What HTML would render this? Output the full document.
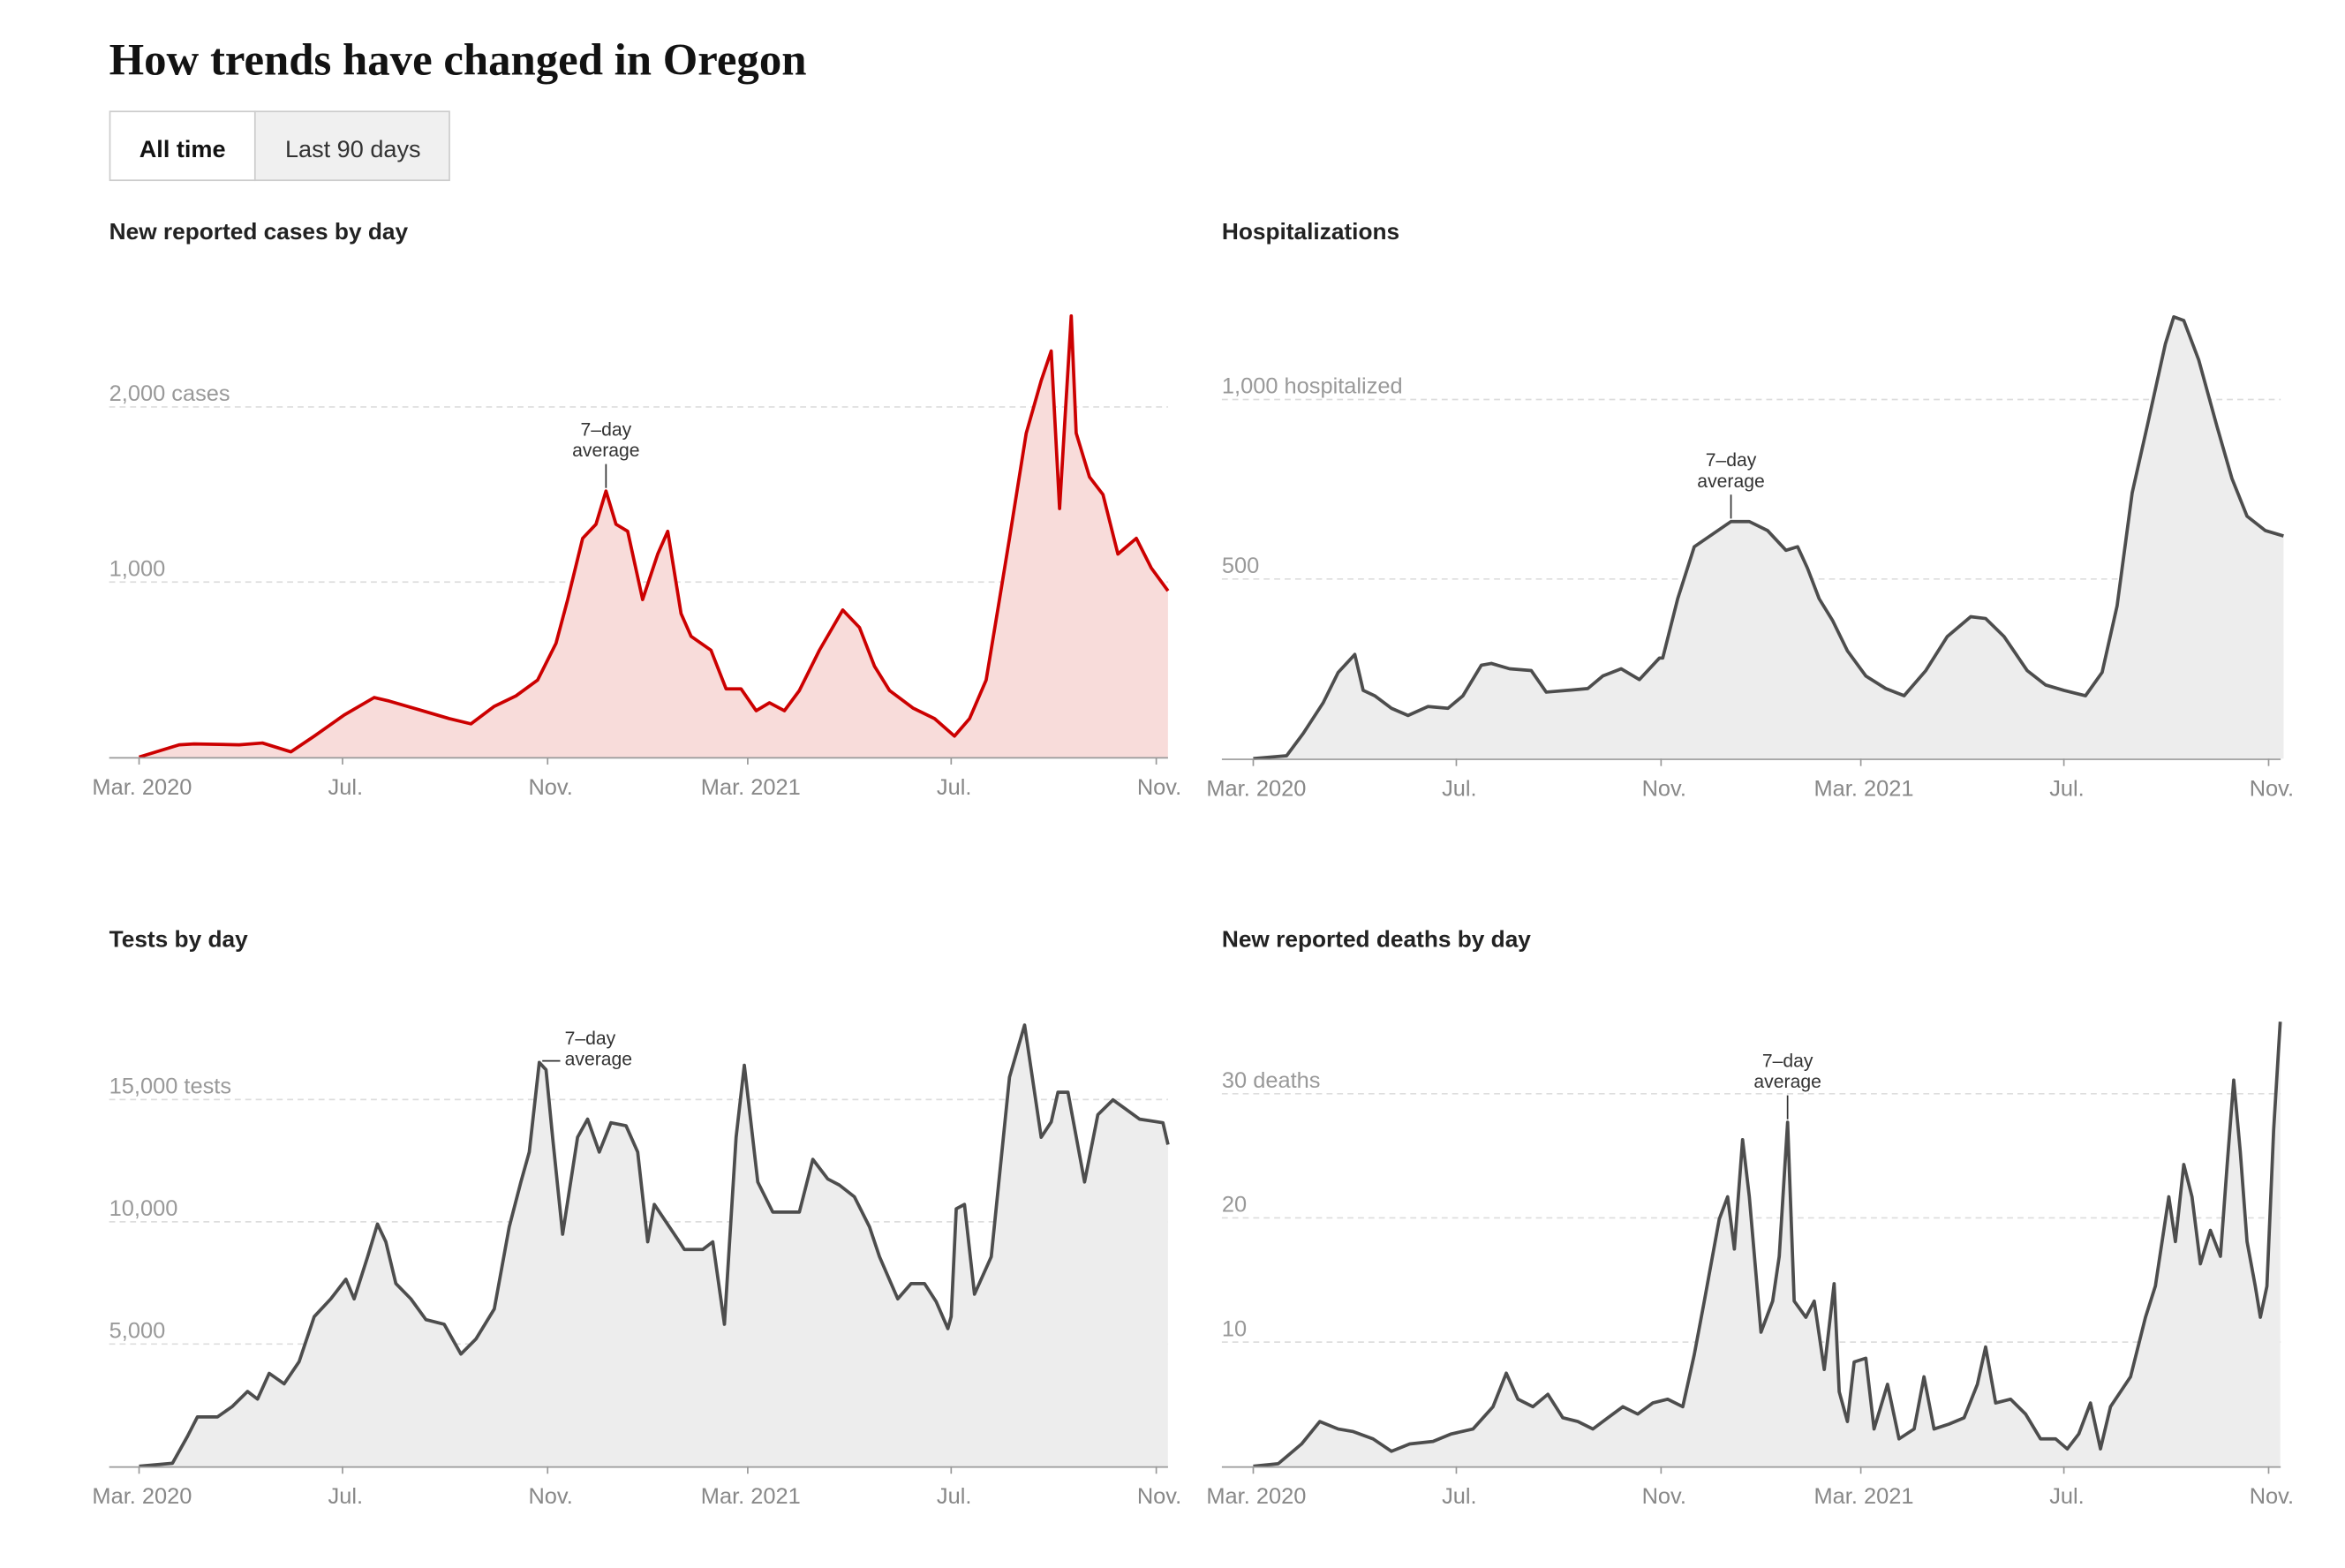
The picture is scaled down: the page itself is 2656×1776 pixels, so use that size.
<!DOCTYPE html>
<html><head><meta charset="utf-8">
<style>
html,body{margin:0;padding:0;background:#fff;width:2656px;height:1776px;overflow:hidden;}
svg{display:block;}
text{font-family:"Liberation Sans",sans-serif;}
</style></head>
<body>
<svg id="root" width="2656" height="1776" viewBox="0 0 1568 1048" preserveAspectRatio="none" xmlns="http://www.w3.org/2000/svg">
  <text x="73" y="50" font-weight="bold" font-size="30" fill="#121212" style="font-family:'Liberation Serif',serif">How trends have changed in Oregon</text>
  <g>
    <rect x="73.5" y="74.5" width="97" height="46" fill="#fff" stroke="#ccc"/>
    <text x="122" y="105" text-anchor="middle" font-size="16" font-weight="bold" fill="#121212">All time</text>
  </g>
  <g>
    <rect x="170.5" y="74.5" width="130" height="46" fill="#f0f0f0" stroke="#ccc"/>
    <text x="236" y="105" text-anchor="middle" font-size="16" fill="#333">Last 90 days</text>
  </g>
</svg>
<script>
// ---- data (days since 2020-03-01) ----
const caseDays=[0,24,33,60,74,91,105,123,141,150,168,186,199,213,226,239,250,257,266,274,280,286,293,302,311,317,325,331,343,352,361,370,378,387,396,408,422,432,441,450,464,477,489,498,508,516,522,532,541,547,552,555,559,562,570,578,587,598,607,617];
const caseVals=[0,70,75,70,80,30,120,240,340,320,270,220,190,290,350,440,650,900,1250,1330,1520,1330,1290,900,1160,1290,820,690,610,390,390,265,310,265,380,610,840,740,520,380,280,220,120,220,440,900,1250,1850,2150,2320,1420,1890,2520,1850,1600,1500,1160,1250,1080,950];
const hospDays=[0,20,30,42,51,61,66,73,83,93,105,117,126,137,143,154,167,176,189,201,210,221,232,244,246,255,265,287,298,309,320,327,333,340,348,357,368,380,391,404,417,431,440,451,465,476,487,500,510,519,528,537,548,553,559,568,579,588,597,608,619];
const hospVals=[0,8,70,155,240,290,190,175,140,120,145,140,175,260,265,250,245,185,190,195,230,250,220,280,280,445,590,660,660,635,580,590,530,445,385,300,230,195,175,245,340,395,390,340,245,205,190,175,240,425,740,925,1155,1230,1220,1110,925,780,675,635,620];
const testDays=[0,20,29,35,47,56,65,71,78,87,96,105,115,124,129,137,143,148,154,163,172,183,193,202,213,222,229,234,240,244,248,254,263,269,276,283,292,299,305,309,324,327,338,344,351,358,363,371,380,389,396,404,413,420,429,438,444,455,463,471,478,485,487,490,495,501,511,522,531,541,547,551,557,567,575,584,600,614,617];
const testVals=[0,120,1220,2020,2020,2450,3060,2750,3800,3370,4280,6120,6850,7650,6850,8570,9910,9180,7470,6850,6000,5810,4590,5200,6430,9790,11630,12850,16520,16220,13460,9490,13460,14200,12850,14050,13930,12850,9180,10710,9180,8870,8870,9180,5810,13460,16400,11630,10400,10400,10400,12550,11750,11500,11020,9790,8570,6850,7470,7470,6730,5630,6120,10530,10710,7040,8570,15910,18050,13460,14080,15300,15300,11630,14380,14990,14200,14050,13160,13340,14260,11320];
const deathDays=[0,15,29,40,51,60,72,83,94,108,119,132,144,152,159,168,177,186,195,204,213,222,231,240,249,258,265,271,280,285,289,294,298,305,312,316,321,325,332,337,343,349,352,357,361,368,373,381,388,397,403,409,418,427,435,440,446,455,464,473,482,489,496,503,509,515,527,536,542,550,554,559,564,569,575,581,585,589,593,597,602,605,609,613,617];
const deathVals=[0,0.2,1.8,3.6,3,2.8,2.2,1.2,1.8,2,2.6,3,4.8,7.5,5.4,4.8,5.8,3.9,3.6,3,3.9,4.8,4.2,5.1,5.4,4.8,9,13.3,19.9,21.7,17.5,26.3,21.7,10.8,13.3,16.9,27.7,13.3,12,13.3,7.8,14.7,6,3.6,8.4,8.7,3,6.6,2.2,3,7.2,3,3.4,3.9,6.6,9.6,5.1,5.4,4.2,2.2,2.2,1.4,2.6,5.1,1.4,4.8,7.2,12,14.5,21.7,18.1,24.3,21.7,16.3,19,16.9,24.1,31.1,25.3,18.1,14.5,12,14.5,27.1,35.8];
const tickLabels=["Mar. 2020","Jul.","Nov.","Mar. 2021","Jul.","Nov."];
const tickDays=[0,122,245,365,487,610];

const NS="http://www.w3.org/2000/svg";
const root=document.getElementById('root');
function el(tag,attrs,parent){const e=document.createElementNS(NS,tag);for(const k in attrs)e.setAttribute(k,attrs[k]);(parent||root).appendChild(e);return e;}

const charts=[
 {name:'cases',title:'New reported cases by day',tx:73,ty:155,x0:93,pxd:1.115,xl:73,xr:781,y0:506,ppu:0.117,days:caseDays,vals:caseVals,
  grid:[1000,2000],glab:['1,000','2,000 cases'],fill:'#f8dcda',stroke:'#cc0000',ann:{d:280,type:'top'}},
 {name:'hospitalizations',title:'Hospitalizations',tx:817,ty:155,x0:838,pxd:1.113,xl:817,xr:1525,y0:507,ppu:0.24,days:hospDays,vals:hospVals,
  grid:[500,1000],glab:['500','1,000 hospitalized'],fill:'#ededed',stroke:'#4d4d4d',ann:{d:287,type:'top'}},
 {name:'tests',title:'Tests by day',tx:73,ty:628,x0:93,pxd:1.115,xl:73,xr:781,y0:980,ppu:0.01634,days:testDays,vals:testVals,
  grid:[5000,10000,15000],glab:['5,000','10,000','15,000 tests'],fill:'#ededed',stroke:'#4d4d4d',ann:{d:240,type:'side'}},
 {name:'deaths',title:'New reported deaths by day',tx:817,ty:628,x0:838,pxd:1.113,xl:817,xr:1525,y0:980,ppu:8.3,days:deathDays,vals:deathVals,
  grid:[10,20,30],glab:['10','20','30 deaths'],fill:'#ededed',stroke:'#4d4d4d',ann:{d:321,type:'top'}}
];

charts.forEach(c=>{
  const g=el('g',{});
  
  
  const X=d=>c.x0+d*c.pxd, Y=v=>c.y0-v*c.ppu;
  const t=el('text',{x:c.tx,y:c.ty+5,'font-size':15.5,'font-weight':'bold',fill:'#222'},g);
  t.textContent=c.title;
  
  
  c.grid.forEach((v,i)=>{
    const l=el('line',{x1:c.xl,x2:c.xr,y1:Y(v),y2:Y(v),stroke:'#ddd','stroke-dasharray':'4,3','stroke-width':1},g);
    
    
    const tl=el('text',{x:c.xl,y:Y(v)-4,'font-size':15,fill:'#999'},g);
    tl.textContent=c.glab[i];
    
    
  });
  let pts=c.days.map((d,i)=>X(d).toFixed(1)+','+Y(c.vals[i]).toFixed(1));
  const lastX=X(c.days[c.days.length-1]), firstX=X(c.days[0]);
  const area=el('polygon',{points:firstX+','+c.y0+' '+pts.join(' ')+' '+lastX+','+c.y0,fill:c.fill},g);
  
  
  const line=el('polyline',{points:pts.join(' '),fill:'none',stroke:c.stroke,'stroke-width':2.2,'stroke-linejoin':'round'},g);
  
  
  const ax=el('line',{x1:c.xl,x2:c.xr,y1:c.y0+0.5,y2:c.y0+0.5,stroke:'#999','stroke-width':1},g);
  
  
  tickDays.forEach((d,i)=>{
    const tk=el('line',{x1:X(d),x2:X(d),y1:c.y0,y2:c.y0+5,stroke:'#999'},g);
    
    
    const tt=el('text',{x:X(d)+2,y:c.y0+25,'text-anchor':'middle','font-size':15,fill:'#888'},g);
    tt.textContent=tickLabels[i];
    
    
  });
  let best=0;c.days.forEach((d,i)=>{if(Math.abs(d-c.ann.d)<Math.abs(c.days[best]-c.ann.d))best=i;});
  const ax2=X(c.days[best]), ay=Y(c.vals[best]);
  const an=el('g',{},g);
  
  
  if(c.ann.type==='top'){
    el('line',{x1:ax2,x2:ax2,y1:ay-18,y2:ay-2,stroke:'#333','stroke-width':1},an);
    const a1=el('text',{x:ax2,y:ay-37,'text-anchor':'middle','font-size':12.5,fill:'#333'},an);a1.textContent='7–day';
    const a2=el('text',{x:ax2,y:ay-23,'text-anchor':'middle','font-size':12.5,fill:'#333'},an);a2.textContent='average';
  } else {
    el('line',{x1:ax2+2,x2:ax2+14,y1:ay-1,y2:ay-1,stroke:'#333','stroke-width':1},an);
    const a1=el('text',{x:ax2+17,y:ay-12,'font-size':12.5,fill:'#333'},an);a1.textContent='7–day';
    const a2=el('text',{x:ax2+17,y:ay+2,'font-size':12.5,fill:'#333'},an);a2.textContent='average';
  }
});
</script>
</body></html>
